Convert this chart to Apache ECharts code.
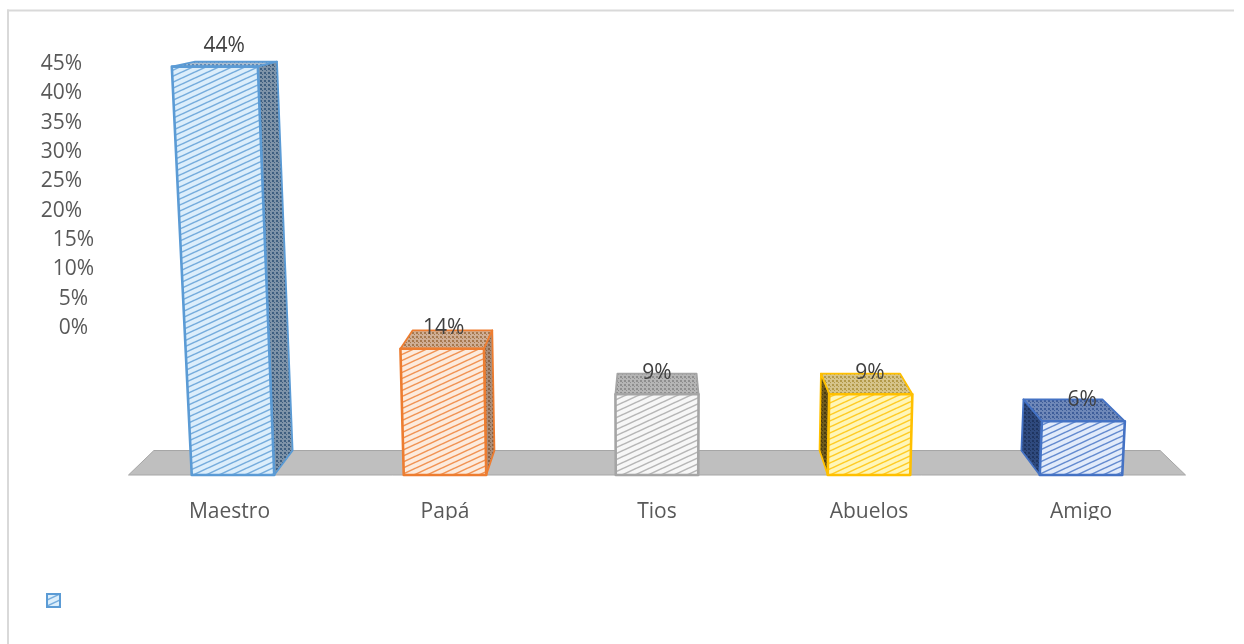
<!DOCTYPE html>
<html><head><meta charset="utf-8">
<style>html,body{margin:0;padding:0;background:#fff}#c{width:1244px;height:644px}</style>
<script src="https://cdn.jsdelivr.net/npm/echarts@6/dist/echarts.min.js"></script>
</head><body><div id="c"></div>
<script>
const categories = ['Maestro', 'Papá', 'Tios', 'Abuelos', 'Amigo'];
const values = [44, 14, 9, 9, 6];
const valueLabels = ['44%', '14%', '9%', '9%', '6%'];
const axisTicks = [0, 5, 10, 15, 20, 25, 30, 35, 40, 45];

const palette = [
  {line:'#5B9BD5', bg:'#DCEEFB', sideBg:'#7E93A8', sideDot:'#3F5F80', topBg:'#A9BDD0', topDot:'#5B87B5'},
  {line:'#ED7D31', bg:'#FCEBDD', sideBg:'#A98C78', sideDot:'#8A6244', topBg:'#CFAE95', topDot:'#A5784F'},
  {line:'#A5A5A5', bg:'#F7F7F7', sideBg:'#9A9A9A', sideDot:'#777777', topBg:'#B5B5B5', topDot:'#8E8E8E'},
  {line:'#FFC000', bg:'#FFF6B8', sideBg:'#6E5A1C', sideDot:'#4A3C10', topBg:'#D6C48A', topDot:'#B39A4A'},
  {line:'#4472C4', bg:'#E2EBFA', sideBg:'#2F4A7E', sideDot:'#1F3560', topBg:'#6F88B8', topDot:'#3F5E9A'}
];

function hatch(bg, line) {
  const w = 13, h = 6, cv = document.createElement('canvas');
  cv.width = w; cv.height = h;
  const g = cv.getContext('2d');
  g.fillStyle = bg; g.fillRect(0, 0, w, h);
  g.strokeStyle = line; g.lineWidth = 1.5; g.globalAlpha = 0.8;
  for (let k = -1; k <= 1; k++) {
    g.beginPath(); g.moveTo(0, h + k * h); g.lineTo(w, k * h); g.stroke();
  }
  return {image: cv, repeat: 'repeat'};
}
function dots(bg, dot) {
  const s = 4, cv = document.createElement('canvas');
  cv.width = s; cv.height = s;
  const g = cv.getContext('2d');
  g.fillStyle = bg; g.fillRect(0, 0, s, s);
  g.fillStyle = dot; g.fillRect(0, 0, 2, 2); g.fillRect(2, 2, 1, 1);
  return {image: cv, repeat: 'repeat'};
}
const fills = palette.map(p => ({
  front: hatch(p.bg, p.line), side: dots(p.sideBg, p.sideDot), top: dots(p.topBg, p.topDot)
}));

// Perspective of the 3D scene
const CAM = 1.05e-4, VX = 657, VY = -35, BACK = 0.952, BAR = 0.389;
function project(x, base, L) {
  const s = 1 / (1 - CAM * L);
  return [VX + (x - VX) * s, base - L * s];
}
function toBack(p) { return [VX + (p[0] - VX) * BACK, VY + (p[1] - VY) * BACK]; }
function poly(points, fill, stroke, lw, z2) {
  return {type: 'polygon', z2, shape: {points}, style: {fill, stroke, lineWidth: lw, lineJoin: 'round'}};
}

function renderBar(params, api) {
  const i = api.value(0), v = api.value(1);
  const p0 = api.coord([i, 0]), p1 = api.coord([i, v]);
  const half = api.size([1, 0])[0] * BAR / 2;
  const L = p0[1] - p1[1], xl = p0[0] - half, xr = p0[0] + half, base = p0[1];
  const fbl = project(xl, base, 0), fbr = project(xr, base, 0);
  const ftl = project(xl, base, L), ftr = project(xr, base, L);
  const c = palette[i], f = fills[i], kids = [];
  kids.push(poly([ftl, ftr, toBack(ftr), toBack(ftl)], f.top, c.line, 1.8, 1));
  if (xr < VX) kids.push(poly([fbr, ftr, toBack(ftr), toBack(fbr)], f.side, c.line, 1.8, 2));
  if (xl > VX) kids.push(poly([fbl, ftl, toBack(ftl), toBack(fbl)], f.side, c.line, 1.8, 2));
  kids.push(poly([fbl, fbr, ftr, ftl], f.front, c.line, 2.6, 3));
  const s = 1 + (CAM / 2) * L;
  kids.push({type: 'text', z2: 5, style: {
    x: VX + (p0[0] - VX) * s, y: ftl[1] - 21, text: valueLabels[i],
    fill: '#404040', font: '21px "Open Sans"', textAlign: 'center', textVerticalAlign: 'middle'
  }});
  return {type: 'group', children: kids};
}
function renderFloor(params) {
  const r = params.coordSys, base = r.y + r.height;
  const a = [r.x + 1.5, base], b = [r.x + r.width - 1.5, base];
  return poly([a, b, toBack(b), toBack(a)], '#BFBFBF', '#A6A6A6', 1, 0);
}

const chart = echarts.init(document.getElementById('c'), null, {renderer: 'canvas'});
chart.setOption({
  animation: false,
  backgroundColor: '#fff',
  textStyle: {fontFamily: '"Open Sans"'},
  grid: [
    {left: 94, top: 64, width: 30, height: 264},
    {left: 127, top: 74.5, width: 1060, height: 400.5}
  ],
  xAxis: [
    {gridIndex: 0, type: 'value', show: false},
    {gridIndex: 1, type: 'category', data: categories,
     axisLine: {show: false}, axisTick: {show: false},
     axisLabel: {fontSize: 21, color: '#595959', margin: 27, fontFamily: '"Open Sans"',
       formatter: v => v === categories[0] ? '{m|' + v + '}' : v,
       rich: {m: {fontSize: 21, color: '#595959', padding: [0, 7, 0, 0]}}}}
  ],
  yAxis: [
    {gridIndex: 0, type: 'value', min: axisTicks[0], max: axisTicks[axisTicks.length - 1], interval: 5,
     axisLine: {show: false}, axisTick: {show: false}, splitLine: {show: false},
     axisLabel: {
       margin: 0, align: 'right', color: '#595959', fontSize: 21, fontFamily: '"Open Sans"',
       formatter: v => (v >= 20 ? '{a|' : v >= 10 ? '{b|' : '{c|') + v + '%}',
       rich: {
         a: {fontSize: 21, color: '#595959', padding: [0, 12, 0, 0]},
         b: {fontSize: 21, color: '#595959', padding: [0, 0, 0, 0]},
         c: {fontSize: 21, color: '#595959', padding: [0, 6, 0, 0]}
       }
     }},
    {gridIndex: 1, type: 'value', min: 0, max: 45, show: false}
  ],
  legend: {
    show: true, left: 46, top: 593, itemWidth: 13, itemHeight: 13, itemGap: 0, padding: 0,
    textStyle: {fontSize: 1, color: '#fff'},
    data: [{name: ' ', icon: 'rect', itemStyle: {color: fills[0].front, borderColor: '#5B9BD5', borderWidth: 2}}]
  },
  series: [
    {type: 'custom', name: 'floor', xAxisIndex: 1, yAxisIndex: 1, z: 1, silent: true, clip: false,
     renderItem: renderFloor, data: [[0, 0]]},
    {type: 'custom', name: ' ', xAxisIndex: 1, yAxisIndex: 1, z: 2, clip: false,
     encode: {x: 0, y: 1}, renderItem: renderBar,
     data: values.map((v, i) => [i, v])}
  ],
  graphic: [
    {type: 'rect', z: 50, shape: {x: 100, y: 520, width: 1100, height: 30}, style: {fill: '#fff'}},
    {type: 'rect', z: 60, shape: {x: 7, y: 9.5, width: 2, height: 634.5}, style: {fill: '#D9D9D9'}},
    {type: 'rect', z: 60, shape: {x: 7, y: 9.5, width: 1227, height: 2}, style: {fill: '#D9D9D9'}}
  ]
});
</script></body></html>
